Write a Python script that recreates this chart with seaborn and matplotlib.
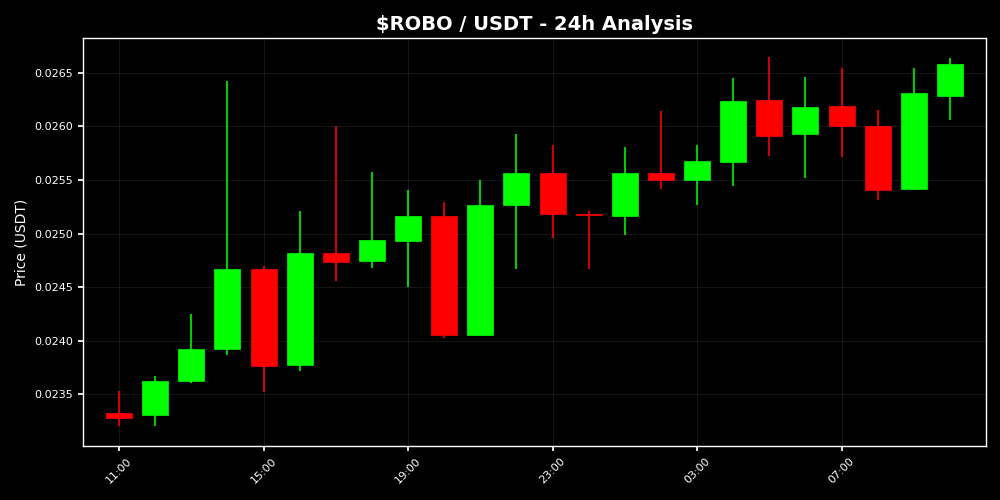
import matplotlib
matplotlib.use("Agg")
import matplotlib.pyplot as plt
import seaborn as sns
import numpy as np
import pandas as pd

hours = ["11:00", "12:00", "13:00", "14:00", "15:00", "16:00", "17:00", "18:00",
         "19:00", "20:00", "21:00", "22:00", "23:00", "00:00", "01:00", "02:00",
         "03:00", "04:00", "05:00", "06:00", "07:00", "08:00", "09:00", "10:00"]
opens = [0.02333, 0.02331, 0.02362, 0.02392, 0.02467, 0.02377, 0.02482, 0.02474,
         0.02493, 0.02516, 0.02405, 0.02527, 0.02556, 0.02518, 0.02516, 0.02556,
         0.02550, 0.02567, 0.02625, 0.02593, 0.02619, 0.02600, 0.02542, 0.02628]
closes = [0.02328, 0.02362, 0.02392, 0.02467, 0.02376, 0.02482, 0.02473, 0.02494,
          0.02516, 0.02405, 0.02527, 0.02556, 0.02518, 0.02517, 0.02556, 0.02550,
          0.02568, 0.02624, 0.02591, 0.02618, 0.02600, 0.02541, 0.02631, 0.02658]
highs = [0.02353, 0.02367, 0.02425, 0.02642, 0.02470, 0.02521, 0.02600, 0.02557,
         0.02541, 0.02529, 0.02550, 0.02593, 0.02583, 0.02521, 0.02581, 0.02614,
         0.02583, 0.02645, 0.02665, 0.02646, 0.02654, 0.02615, 0.02654, 0.02664]
lows = [0.02320, 0.02320, 0.02361, 0.02387, 0.02352, 0.02372, 0.02456, 0.02468,
        0.02450, 0.02403, 0.02404, 0.02467, 0.02496, 0.02467, 0.02499, 0.02542,
        0.02527, 0.02544, 0.02572, 0.02552, 0.02571, 0.02531, 0.02541, 0.02606]

df = pd.DataFrame({"time": hours, "open": opens, "close": closes,
                   "high": highs, "low": lows})
df["x"] = np.arange(len(df))
df["up"] = df["close"] >= df["open"]

sns.set_theme(style="dark")
plt.rcParams.update({
    "figure.facecolor": "black",
    "axes.facecolor": "black",
    "savefig.facecolor": "black",
    "axes.edgecolor": "white",
    "text.color": "white",
    "axes.labelcolor": "white",
    "xtick.color": "white",
    "ytick.color": "white",
})
plt.rcParams["font.family"] = ["DejaVu Sans"]

fig, ax = plt.subplots(figsize=(10, 5), dpi=100)
fig.patch.set_facecolor("black")
ax.set_facecolor("black")

green = "#00ff00"
red = "#ff0000"
colors = [green if u else red for u in df["up"]]

# wicks
ax.vlines(df["x"], df["low"], df["high"], colors=colors, linewidth=1.5, alpha=0.8, zorder=2)
# bodies
bottoms = np.minimum(df["open"], df["close"])
heights = np.abs(df["close"] - df["open"])
heights = np.maximum(heights, 0.000012)
ax.bar(df["x"], heights, bottom=bottoms, width=0.72, color=colors, edgecolor=colors,
       linewidth=0.5, zorder=3)

ax.set_xlim(-1, 24)
ax.set_ylim(0.023018, 0.026824)
tick_idx = list(range(0, len(hours), 4))
ax.set_xticks(tick_idx)
ax.set_xticklabels([hours[i] for i in tick_idx], rotation=45, fontsize=8, color="white")
ax.tick_params(axis="y", labelsize=8, colors="white", left=True, length=3.5)
ax.tick_params(axis="x", bottom=True, length=3.5, colors="white")
ax.yaxis.set_major_formatter(matplotlib.ticker.FormatStrFormatter("%.4f"))

ax.grid(True, color="#333333", alpha=0.5, linewidth=0.6)
ax.set_axisbelow(True)
for s in ax.spines.values():
    s.set_color("white")
    s.set_linewidth(1.0)
    s.set_visible(True)

ax.set_title("$ROBO / USDT - 24h Analysis", fontsize=14, fontweight="bold", color="white")
ax.set_ylabel("Price (USDT)", fontsize=10, color="white")
ax.set_xlabel("")

fig.subplots_adjust(left=0.083, right=0.986, top=0.924, bottom=0.108)
fig.savefig("out.png", dpi=100, facecolor="black")
